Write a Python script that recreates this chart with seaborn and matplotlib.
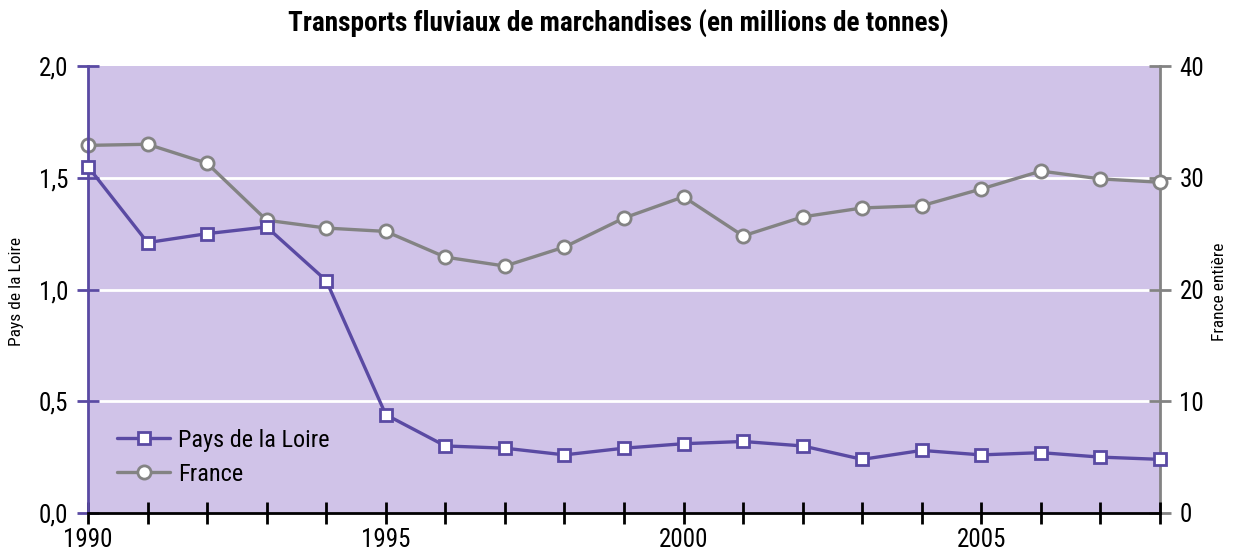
import matplotlib
matplotlib.use("Agg")
import matplotlib.pyplot as plt
from matplotlib import font_manager
from matplotlib.font_manager import FontProperties
from matplotlib.lines import Line2D
import pandas as pd
import seaborn as sns

years = list(range(1990, 2009))
pays_de_la_loire = [1.55, 1.21, 1.25, 1.28, 1.04, 0.44, 0.30, 0.29, 0.26, 0.29,
                    0.31, 0.32, 0.30, 0.24, 0.28, 0.26, 0.27, 0.25, 0.24]
france = [32.9, 33.0, 31.3, 26.2, 25.5, 25.2, 22.9, 22.1, 23.8, 26.4,
          28.3, 24.8, 26.5, 27.3, 27.5, 29.0, 30.6, 29.9, 29.6]
left_ticks = [0.0, 0.5, 1.0, 1.5, 2.0]
left_labels = ["0,0", "0,5", "1,0", "1,5", "2,0"]
right_ticks = [0, 10, 20, 30, 40]
x_labels = [1990, 1995, 2000, 2005]

sns.set_theme(style="white")


def narrow_font(bold):
    """Return the path of the narrowest sans-serif face installed."""
    want = 700 if bold else 400
    fonts = font_manager.fontManager.ttflist

    def w(f):
        try:
            return int(f.weight)
        except (TypeError, ValueError):
            return {"bold": 700, "normal": 400, "regular": 400}.get(str(f.weight), 400)

    prefs = [
        lambda f: f.name == "Liberation Sans Narrow",
        lambda f: "Condensed" in f.name and "Roboto" in f.name,
        lambda f: f.name == "DejaVu Sans" and "condensed" in str(f.stretch),
        lambda f: "Narrow" in f.name or "Condensed" in f.name,
    ]
    for test in prefs:
        cands = [f for f in fonts if test(f) and f.style == "normal"]
        if cands:
            cands.sort(key=lambda f: abs(w(f) - want))
            return cands[0].fname
    return font_manager.findfont(FontProperties(family="DejaVu Sans",
                                                weight="bold" if bold else "normal"))


REG = narrow_font(False)
BOLD = narrow_font(True)


def fp(size, bold=False):
    return FontProperties(fname=BOLD if bold else REG, size=size)


PURPLE = "#5a4aa3"
GREY = "#838383"
BG = "#d0c3e8"

df = pd.DataFrame({"annee": years, "pdl": pays_de_la_loire, "france": france})

fig = plt.figure(figsize=(12.36, 5.55), dpi=100)
ax = fig.add_axes([0.0712, 0.0757, 0.8673, 0.8053])
ax2 = ax.twinx()
ax.set_zorder(ax2.get_zorder() + 1)
ax.patch.set_visible(False)
ax2.patch.set_facecolor(BG)
ax2.patch.set_visible(True)

# horizontal grid lines
for v in left_ticks[1:-1]:
    ax2.axhline(v * 20, color="white", lw=2, zorder=0)

sns.lineplot(data=df, x="annee", y="france", ax=ax2, color=GREY, lw=2.4,
             marker="o", markersize=9.5, markerfacecolor="white",
             markeredgecolor=GREY, markeredgewidth=2, zorder=3, clip_on=False)
sns.lineplot(data=df, x="annee", y="pdl", ax=ax, color=PURPLE, lw=2.4,
             marker="s", markersize=9, markerfacecolor="white",
             markeredgecolor=PURPLE, markeredgewidth=2, zorder=4, clip_on=False)

ax.set_xlim(1990, 2008)
ax.set_ylim(0, 2.0)
ax2.set_ylim(0, 40)

ax.set_yticks(left_ticks)
ax.set_yticklabels(left_labels)
ax2.set_yticks(right_ticks)
ax.set_xticks(years)
ax.set_xticklabels([str(y) if y in x_labels else "" for y in years])

for a in (ax, ax2):
    for s in a.spines.values():
        s.set_visible(False)

ax.spines["left"].set_visible(True)
ax.spines["left"].set_color(PURPLE)
ax.spines["left"].set_linewidth(2)
ax.spines["bottom"].set_visible(True)
ax.spines["bottom"].set_color("black")
ax.spines["bottom"].set_linewidth(2)
ax2.spines["right"].set_visible(True)
ax2.spines["right"].set_color(GREY)
ax2.spines["right"].set_linewidth(2)

ax.tick_params(axis="y", direction="inout", length=16, width=2, color=PURPLE,
               pad=6, left=True)
ax.tick_params(axis="x", direction="inout", length=16, width=2, color="black",
               pad=3, bottom=True)
ax2.tick_params(axis="y", direction="inout", length=16, width=2, color=GREY,
                pad=6, right=True)
for lab in ax.get_xticklabels() + ax.get_yticklabels() + ax2.get_yticklabels():
    lab.set_fontproperties(fp(18))
    lab.set_color("black")

ax.set_xlabel("")
ax.set_ylabel("")
ax2.set_ylabel("")
fig.text(0.013, 0.474, "Pays de la Loire", rotation=90, ha="center", va="center",
         fontproperties=fp(12.5), color="black")
fig.text(0.987, 0.474, "France entière", rotation=90, ha="center", va="center",
         fontproperties=fp(12.5), color="black")

fig.text(0.5, 0.957, "Transports fluviaux de marchandises (en millions de tonnes)",
         ha="center", va="center", fontproperties=fp(19.6, bold=True), color="black")

handles = [
    Line2D([], [], color=PURPLE, lw=2.4, marker="s", markersize=9,
           markerfacecolor="white", markeredgecolor=PURPLE, markeredgewidth=2),
    Line2D([], [], color=GREY, lw=2.4, marker="o", markersize=9.5,
           markerfacecolor="white", markeredgecolor=GREY, markeredgewidth=2),
]
leg = ax.legend(handles, ["Pays de la Loire", "France"], loc="lower left",
                bbox_to_anchor=(0.007, 0.012), frameon=False, prop=fp(17.5),
                handlelength=2.15, handletextpad=0.35, labelspacing=0.45)
for t in leg.get_texts():
    t.set_color("black")
if ax2.get_legend() is not None:
    ax2.get_legend().remove()

fig.savefig("out.png", dpi=100)
